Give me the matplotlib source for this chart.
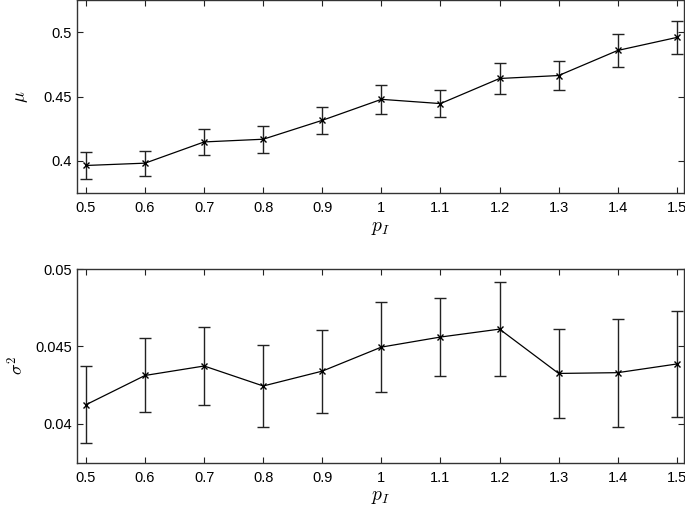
import matplotlib.pyplot as plt
import numpy as np

# --- data ---
p_I = [0.5, 0.6, 0.7, 0.8, 0.9, 1.0, 1.1, 1.2, 1.3, 1.4, 1.5]

mu = [0.3964, 0.3982, 0.4147, 0.4168, 0.4315, 0.4478, 0.4445, 0.4640, 0.4663, 0.4858, 0.4959]
mu_err = [0.0102, 0.0096, 0.0098, 0.0106, 0.0107, 0.0114, 0.0103, 0.0117, 0.0115, 0.0125, 0.0125]

var = [0.04124, 0.04313, 0.04374, 0.04245, 0.04341, 0.04496, 0.04561, 0.04612, 0.04326, 0.04331, 0.04387]
var_err = [0.00249, 0.00239, 0.00250, 0.00265, 0.00268, 0.00293, 0.00254, 0.00302, 0.00286, 0.00349, 0.00340]

x_ticks = [0.5, 0.6, 0.7, 0.8, 0.9, 1.0, 1.1, 1.2, 1.3, 1.4, 1.5]
x_ticklabels = ['0.5', '0.6', '0.7', '0.8', '0.9', '1', '1.1', '1.2', '1.3', '1.4', '1.5']

plt.rcParams['font.family'] = ['Liberation Sans', 'DejaVu Sans']
plt.rcParams['mathtext.fontset'] = 'cm'

fig = plt.figure(figsize=(6.85, 5.05), dpi=100)
ax1 = fig.add_axes([0.1124, 0.6178, 0.886, 0.3822])
ax2 = fig.add_axes([0.1124, 0.0838, 0.886, 0.3835])


def style(ax):
    ax.tick_params(direction='in', top=True, right=True, labelsize=10.5,
                   length=4, width=0.8, colors='#222222', labelcolor='black')
    ax.tick_params(axis='x', pad=5.7)
    for s in ax.spines.values():
        s.set_color('#333333')
        s.set_linewidth(1.0)
    ax.set_xticks(x_ticks)
    ax.set_xticklabels(x_ticklabels)
    ax.set_xlim(0.4848, 1.512)
    ax.set_xlabel('$p_I$', fontsize=14, labelpad=3.5)


ax1.errorbar(p_I, mu, yerr=mu_err, color='black', lw=0.9, marker='x', ms=4,
             mew=1.0, ecolor='#222222', elinewidth=1.0, capsize=4, capthick=1.0)
style(ax1)
ax1.set_ylim(0.375, 0.525)
ax1.set_yticks([0.4, 0.45, 0.5])
ax1.set_yticklabels(['0.4', '0.45', '0.5'])
ax1.set_ylabel(r'$\mu$', fontsize=13, labelpad=10)

ax2.errorbar(p_I, var, yerr=var_err, color='black', lw=0.9, marker='x', ms=4,
             mew=1.0, ecolor='#222222', elinewidth=1.0, capsize=4, capthick=1.0)
style(ax2)
ax2.set_ylim(0.0375, 0.05)
ax2.set_yticks([0.04, 0.045, 0.05])
ax2.set_yticklabels(['0.04', '0.045', '0.05'])
ax2.set_ylabel(r'$\sigma^2$', fontsize=13, labelpad=6)

fig.savefig('out.png', dpi=100)
